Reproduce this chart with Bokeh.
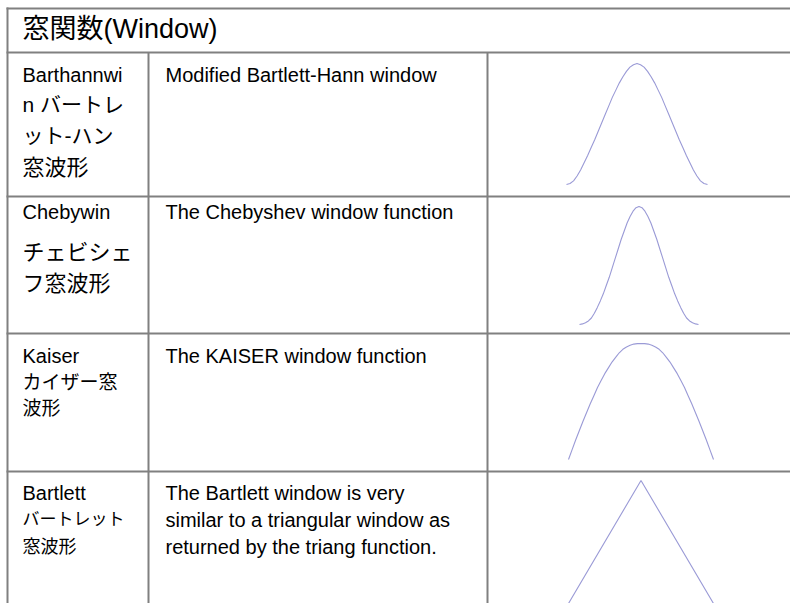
from bokeh.plotting import figure
from bokeh.models import Range1d, ColumnDataSource
from bokeh.core.properties import value
from bokeh.embed import file_html
from bokeh.resources import INLINE

# ---------------- data ----------------
title = "窓関数(Window)"

name_lines = [
    ["Barthannwi", "n バートレ", "ット-ハン", "窓波形"],
    ["Chebywin", "チェビシェ", "フ窓波形"],
    ["Kaiser", "カイザー窓", "波形"],
    ["Bartlett", "バートレット", "窓波形"],
]

descriptions = [
    ["Modified Bartlett-Hann window"],
    ["The Chebyshev window function"],
    ["The KAISER window function"],
    ["The Bartlett window is very",
     "similar to a triangular window as",
     "returned by the triang function."],
]

# window shapes (sample index, normalised amplitude)
barthannwin_values = [0.0, 0.008, 0.03, 0.07, 0.12, 0.18, 0.24, 0.305, 0.37, 0.44,
                      0.51, 0.58, 0.65, 0.72, 0.78, 0.84, 0.89, 0.935, 0.97, 0.99, 1.0,
                      0.99, 0.97, 0.935, 0.89, 0.84, 0.78, 0.72, 0.65, 0.58, 0.51,
                      0.44, 0.37, 0.305, 0.24, 0.18, 0.12, 0.07, 0.03, 0.008, 0.0]
chebwin_values = [0.0, 0.005, 0.015, 0.03, 0.055, 0.095, 0.145, 0.2, 0.26, 0.33,
                  0.40, 0.48, 0.56, 0.64, 0.72, 0.79, 0.86, 0.915, 0.96, 0.99, 1.0,
                  0.99, 0.96, 0.915, 0.86, 0.79, 0.72, 0.64, 0.56, 0.48, 0.40,
                  0.33, 0.26, 0.2, 0.145, 0.095, 0.055, 0.03, 0.015, 0.005, 0.0]
kaiser_values = [0.0, 0.085, 0.17, 0.25, 0.33, 0.405, 0.48, 0.55, 0.62, 0.68,
                 0.74, 0.79, 0.84, 0.88, 0.92, 0.95, 0.97, 0.985, 0.995, 0.999, 1.0,
                 0.999, 0.995, 0.985, 0.97, 0.95, 0.92, 0.88, 0.84, 0.79, 0.74,
                 0.68, 0.62, 0.55, 0.48, 0.405, 0.33, 0.25, 0.17, 0.085, 0.0]
bartlett_values = [0.0, 1.0, 0.0]

window_curves = [barthannwin_values, chebwin_values, kaiser_values, bartlett_values]

# ---------------- layout (page pixel coordinates) ----------------
X0, Y0 = 0, 0          # page position of the figure's top-left corner
W, H = 790, 603

grid_color = "#808080"
curve_color = "#9a9ad6"

h_lines_y = [8, 52, 196, 333, 471]
col_x = [148, 487]
left_x = 7

# row text centre lines
name_y = [[74, 104, 135, 167], [211, 252, 283], [355, 382, 408], [492, 519, 546]]
name_sizes = [["20px", "21px", "21px", "22px"],
              ["20px", "22px", "22px"],
              ["20px", "19px", "19px"],
              ["20px", "17px", "18px"]]
desc_y = [[74], [211], [355], [492, 519, 546]]

# curve boxes: x_left, x_right, y_top (value 1), y_bottom (value 0)
curve_boxes = [(566, 707, 63, 184), (579, 698, 206, 324),
               (568, 713, 343, 459), (568, 713, 480, 603)]

FONT = value("Liberation Sans, Arial, Noto Sans CJK JP")

p = figure(width=W, height=H, output_backend="svg", toolbar_location=None,
           x_range=Range1d(X0, X0 + W), y_range=Range1d(Y0 + H, Y0),
           x_axis_location=None, y_axis_location=None, min_border=0)
p.grid.visible = False
p.outline_line_color = None
p.background_fill_color = "white"
p.border_fill_color = "white"

# table rules
p.segment(x0=[left_x - 1] * len(h_lines_y), x1=[X0 + W] * len(h_lines_y),
          y0=h_lines_y, y1=h_lines_y, line_color=grid_color, line_width=2)
p.segment(x0=[left_x] + col_x, x1=[left_x] + col_x,
          y0=[h_lines_y[0] - 1] + [h_lines_y[1]] * len(col_x),
          y1=[Y0 + H] * (1 + len(col_x)), line_color=grid_color, line_width=2)

# texts
xs, ys, ts, ss = [22], [28], [title], ["27px"]
for lines, yy, sz in zip(name_lines, name_y, name_sizes):
    for t, y, s in zip(lines, yy, sz):
        xs.append(22); ys.append(y); ts.append(t); ss.append(s)
for lines, yy in zip(descriptions, desc_y):
    for t, y in zip(lines, yy):
        xs.append(165); ys.append(y); ts.append(t); ss.append("20px")

src = ColumnDataSource(dict(x=xs, y=ys, text=ts, size=ss))
p.text(x="x", y="y", text="text", source=src, text_font=FONT,
       text_font_size="size", text_baseline="middle", text_align="left",
       text_color="#000000")

# window curves, each on its own scale mapped into its cell
for i, (vals, box) in enumerate(zip(window_curves, curve_boxes)):
    xl, xr, yt, yb = box
    n = len(vals)
    kx = (n - 1) / (xr - xl)
    xs0 = -(xl - X0) * kx
    ky = 1.0 / (yb - yt)
    pyb = yb - Y0
    ys0 = -(H - pyb) * ky
    name = f"c{i}"
    p.extra_x_ranges[name] = Range1d(xs0, xs0 + W * kx)
    p.extra_y_ranges[name] = Range1d(ys0, ys0 + H * ky)
    p.line(x=list(range(n)), y=vals, x_range_name=name, y_range_name=name,
           line_color=curve_color, line_width=1.1)

open("out.html", "w").write(file_html(p, INLINE))
